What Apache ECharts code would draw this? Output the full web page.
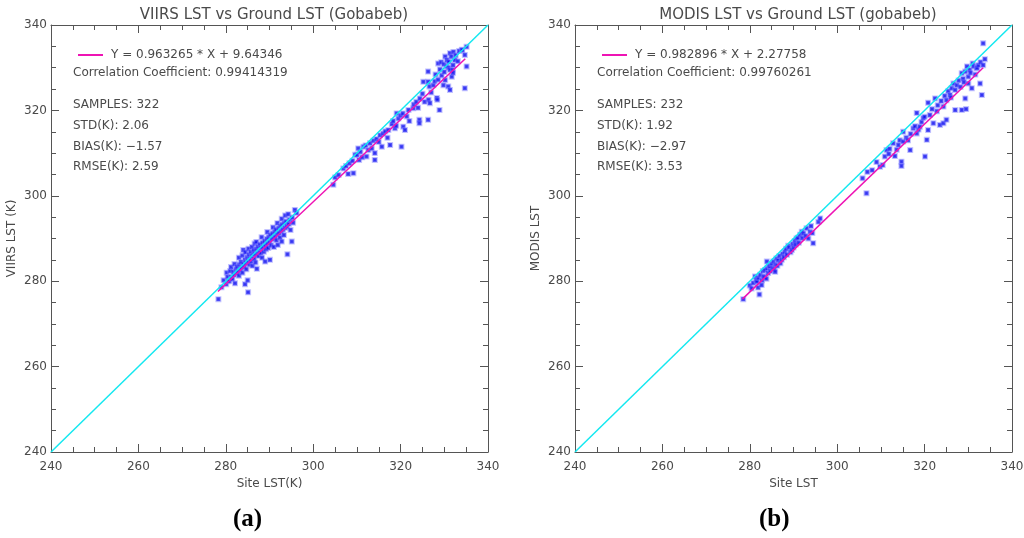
<!DOCTYPE html>
<html>
<head>
<meta charset="utf-8">
<script src="https://cdn.jsdelivr.net/npm/echarts@6/dist/echarts.min.js"></script>
<style>
  html, body { margin: 0; padding: 0; background: #fff; }
  #main { width: 1024px; height: 538px; }
</style>
</head>
<body>
<div id="main"></div>
<script>
// 数据: [站点 LST, 卫星 LST]
var viirsPoints = [
    [278.3, 275.8], [279.0, 278.6], [279.5, 280.2], [280.1, 279.3], [280.2, 282.0], [280.4, 281.0], [280.6, 280.0],
    [280.8, 280.1], [281.0, 282.4], [281.2, 281.0], [281.2, 283.3], [281.5, 280.5], [281.7, 282.2], [281.9, 281.5],
    [282.0, 284.0], [282.1, 279.5], [282.3, 282.8], [282.5, 281.9], [282.6, 283.4], [282.8, 282.2], [283.0, 281.3],
    [283.0, 285.5], [283.1, 283.9], [283.3, 282.7], [283.5, 284.5], [283.6, 283.2], [283.8, 282.0], [283.8, 286.0],
    [284.0, 287.3], [284.0, 284.1], [284.2, 283.4], [284.4, 279.3], [284.4, 285.0], [284.5, 286.8], [284.6, 284.3],
    [284.7, 282.8], [284.9, 285.6], [285.0, 280.2], [285.1, 277.4], [285.1, 284.7], [285.2, 287.6], [285.3, 286.2],
    [285.4, 283.9], [285.6, 285.3], [285.7, 286.8], [285.8, 284.6], [286.0, 285.9], [286.0, 288.0], [286.1, 283.6],
    [286.3, 286.5], [286.4, 287.2], [286.5, 285.2], [286.6, 288.8], [286.7, 286.3], [286.8, 284.4], [287.0, 287.6],
    [287.0, 289.2], [287.1, 282.9], [287.2, 286.4], [287.4, 288.1], [287.5, 285.9], [287.7, 287.0], [287.8, 288.6],
    [288.0, 286.6], [288.1, 287.8], [288.2, 290.3], [288.3, 285.5], [288.4, 289.0], [288.5, 288.0], [288.7, 286.9],
    [288.9, 289.4], [289.0, 284.6], [289.0, 288.3], [289.2, 287.5], [289.4, 289.9], [289.5, 288.8], [289.5, 291.5],
    [289.7, 287.8], [289.8, 290.3], [290.0, 289.1], [290.1, 285.0], [290.2, 290.8], [290.4, 288.4], [290.5, 289.9],
    [290.7, 291.2], [290.8, 292.6], [290.9, 290.0], [291.0, 288.0], [291.2, 291.6], [291.3, 290.4], [291.5, 292.1],
    [291.6, 289.6], [291.8, 291.0], [291.8, 293.6], [291.9, 288.5], [292.1, 292.4], [292.2, 291.3], [292.4, 290.2],
    [292.5, 292.9], [292.7, 291.7], [292.8, 289.3], [292.8, 294.6], [292.9, 293.3], [293.1, 292.1], [293.3, 290.8],
    [293.4, 293.6], [293.6, 292.5], [293.6, 295.4], [293.8, 294.0], [294.0, 292.8], [294.1, 286.3], [294.3, 295.7],
    [294.4, 293.4], [294.6, 294.4], [294.8, 292.0], [295.1, 289.3], [295.2, 294.9], [295.4, 293.7], [295.8, 296.7],
    [296.2, 296.0],
    [304.6, 302.6], [305.0, 304.3], [305.8, 304.9], [306.9, 306.4], [307.5, 307.0], [308.0, 305.1], [308.3, 307.6],
    [309.0, 308.2], [309.2, 305.3], [309.6, 309.6], [310.0, 309.6], [310.3, 311.1], [310.5, 308.4], [310.8, 310.3],
    [311.2, 309.0], [311.5, 311.5], [312.0, 311.8], [312.2, 309.2], [312.6, 310.7], [313.0, 312.3], [313.4, 311.1],
    [313.8, 312.9], [314.1, 308.4], [314.1, 310.0], [314.5, 313.3], [315.0, 312.6], [315.3, 314.2], [315.7, 311.5],
    [316.0, 314.6], [316.5, 315.1], [317.0, 313.6], [317.2, 315.4], [317.6, 311.9], [318.0, 316.8], [318.3, 317.5],
    [318.7, 315.8], [319.0, 316.4], [319.1, 319.3], [319.5, 318.1], [320.0, 318.8], [320.2, 311.5], [320.5, 319.3],
    [320.6, 316.2], [321.0, 315.4], [321.4, 318.6], [321.8, 320.1], [322.0, 317.5], [322.9, 320.5], [323.0, 321.4],
    [323.6, 322.0], [324.0, 320.6], [324.3, 317.8], [324.3, 317.0], [324.4, 322.8], [325.0, 323.9], [325.2, 326.7],
    [325.5, 322.0], [326.3, 317.8], [326.3, 326.7], [326.3, 329.1], [326.4, 322.5], [326.6, 325.6], [326.7, 321.7],
    [327.0, 324.2], [327.5, 325.9], [327.8, 326.8], [328.0, 328.4], [328.3, 322.9], [328.4, 322.5], [328.6, 327.2],
    [328.6, 331.0], [328.9, 320.1], [329.0, 329.6], [329.3, 331.3], [329.4, 328.2], [329.8, 325.9], [329.9, 330.8],
    [330.0, 329.0], [330.2, 332.6], [330.2, 327.1], [330.5, 330.3], [330.6, 331.8], [330.9, 325.6], [331.0, 331.4],
    [331.0, 330.0], [331.3, 333.4], [331.3, 329.5], [331.3, 324.8], [331.6, 332.6], [331.7, 327.9], [331.9, 329.5],
    [332.0, 330.6], [332.0, 328.8], [332.1, 333.7], [332.4, 331.8], [332.6, 332.9], [333.1, 331.5], [333.4, 333.9],
    [334.0, 334.1], [334.1, 334.2], [334.7, 333.0], [334.7, 325.2], [335.1, 334.9], [335.1, 330.3]
];
var modisPoints = [
    [278.5, 275.8], [280.0, 279.0], [280.4, 278.3], [280.8, 279.6], [281.2, 281.1], [281.5, 280.3], [281.6, 279.9],
    [281.9, 278.5], [282.0, 280.8], [282.2, 276.9], [282.4, 281.5], [282.7, 279.1], [282.8, 280.2], [283.0, 282.4],
    [283.1, 281.1], [283.3, 281.0], [283.5, 282.6], [283.8, 280.6], [283.9, 284.6], [284.0, 283.0], [284.2, 281.9],
    [284.4, 283.6], [284.6, 283.4], [284.7, 282.4], [285.0, 284.0], [285.2, 283.1], [285.4, 284.6], [285.6, 282.8],
    [285.8, 282.2], [285.9, 283.9], [286.1, 285.3], [286.3, 283.6], [286.5, 284.9], [286.8, 285.9], [287.0, 284.2],
    [287.3, 285.0], [287.5, 286.4], [287.8, 285.6], [288.0, 286.9], [288.3, 287.6], [288.5, 286.2], [288.8, 288.3],
    [289.0, 287.9], [289.3, 286.8], [289.6, 287.3], [289.8, 288.7], [290.0, 287.9], [290.3, 289.4], [290.5, 288.6],
    [290.7, 290.0], [291.0, 290.2], [291.2, 289.0], [291.5, 290.9], [291.9, 291.6], [292.0, 290.1], [292.3, 291.2],
    [292.8, 290.6], [293.0, 292.4], [293.4, 290.0], [293.8, 291.6], [294.0, 292.9], [294.3, 291.3], [294.5, 288.9],
    [295.7, 293.9], [296.1, 294.7],
    [305.8, 304.1], [306.7, 300.6], [306.9, 305.6], [308.0, 306.0], [309.0, 307.9], [309.8, 306.8], [310.4, 307.2],
    [310.9, 309.2], [311.3, 310.7], [311.8, 309.8], [312.0, 311.0], [312.8, 312.3], [313.2, 309.3], [313.6, 310.8],
    [314.0, 311.9], [314.3, 313.0], [314.7, 308.0], [314.7, 307.0], [315.1, 312.7], [315.1, 315.0], [315.8, 313.6],
    [316.2, 313.0], [316.7, 310.7], [316.8, 314.5], [317.4, 315.8], [317.8, 316.3], [318.2, 314.6], [318.2, 319.4],
    [318.6, 315.5], [318.9, 316.2], [319.3, 317.3], [319.7, 318.2], [320.0, 318.5], [320.1, 309.2], [320.5, 313.1],
    [320.8, 315.4], [320.8, 321.8], [321.2, 318.9], [321.7, 320.3], [322.0, 317.0], [322.4, 322.8], [322.8, 319.8],
    [323.0, 321.2], [323.5, 316.6], [323.8, 322.2], [324.3, 317.0], [324.3, 320.9], [324.6, 323.4], [325.0, 317.8],
    [325.0, 322.4], [325.4, 324.5], [325.8, 323.6], [326.0, 323.0], [326.2, 325.2], [326.6, 326.3], [327.0, 320.1],
    [327.0, 324.8], [327.4, 325.9], [327.8, 327.0], [328.2, 325.5], [328.5, 320.1], [328.5, 328.7], [328.8, 327.4],
    [329.0, 326.6], [329.3, 322.8], [329.3, 329.1], [329.5, 320.3], [329.7, 330.3], [330.0, 326.3], [330.0, 327.9],
    [330.3, 329.5], [330.5, 328.8], [330.8, 325.2], [331.0, 331.0], [331.2, 330.3], [331.6, 328.4], [331.9, 329.9],
    [332.0, 330.0], [332.3, 330.6], [332.7, 326.3], [332.8, 331.3], [333.1, 323.6], [333.4, 330.6], [333.4, 335.7],
    [333.8, 332.0]
];
var oneToOne = [[240, 240], [340, 340]];
var viirsFit = [[278.2, 277.6], [334.8, 332.1]];
var modisFit = [[278.3, 275.8], [333.4, 330.0]];
var axisMin = 240;
var axisMax = 340;
var axisStep = 20;

var viirsEq = 'Y = 0.963265 * X + 9.64346';
var modisEq = 'Y = 0.982896 * X + 2.27758';
var viirsStats = ['Correlation Coefficient: 0.99414319', 'SAMPLES: 322', 'STD(K): 2.06', 'BIAS(K): \u22121.57', 'RMSE(K): 2.59'];
var modisStats = ['Correlation Coefficient: 0.99760261', 'SAMPLES: 232', 'STD(K): 1.92', 'BIAS(K): \u22122.97', 'RMSE(K): 3.53'];

var FONT = 'DejaVu Sans';
var TXT = '#4a4a4a';
var AXC = '#555';

function xAxisCfg(gi, pos, name) {
    return {
        gridIndex: gi, type: 'value', position: pos,
        min: axisMin, max: axisMax, interval: axisStep,
        name: name, nameLocation: 'middle', nameGap: 25,
        nameTextStyle: { color: TXT, fontSize: 12, fontFamily: FONT },
        axisLine: { show: true, onZero: false, lineStyle: { color: AXC, width: 1 } },
        axisTick: { show: true, inside: true, length: 8, lineStyle: { color: AXC } },
        minorTick: { show: true, splitNumber: 4, length: 5, lineStyle: { color: AXC } },
        splitLine: { show: false },
        axisLabel: { show: pos === 'bottom', color: TXT, fontSize: 12, fontFamily: FONT, margin: 9 }
    };
}
function yAxisCfg(gi, pos, name) {
    return {
        gridIndex: gi, type: 'value', position: pos,
        min: axisMin, max: axisMax, interval: axisStep,
        name: name, nameLocation: 'middle', nameGap: 33, nameRotate: 90,
        nameTextStyle: { color: TXT, fontSize: 12, fontFamily: FONT },
        axisLine: { show: true, onZero: false, lineStyle: { color: AXC, width: 1 } },
        axisTick: { show: true, inside: true, length: 8, lineStyle: { color: AXC } },
        minorTick: { show: true, splitNumber: 4, length: 5, lineStyle: { color: AXC } },
        splitLine: { show: false },
        axisLabel: { show: pos === 'left', color: TXT, fontSize: 12, fontFamily: FONT, margin: 4 }
    };
}
function statTexts(x0, lines) {
    var ys = [67, 99, 120, 141, 161];
    return lines.map(function (t, i) {
        return { type: 'text', left: x0, top: ys[i], style: { text: t, fill: TXT, font: '12px ' + FONT } };
    });
}
function scatterCfg(gi, data) {
    return {
        type: 'scatter', xAxisIndex: gi * 2, yAxisIndex: gi * 2, data: data,
        symbol: 'rect', symbolSize: 4, z: 3,
        itemStyle: { color: '#0000ee', borderColor: 'rgba(120,120,255,0.55)', borderWidth: 2 }
    };
}
function lineCfg(gi, data, color, name) {
    return {
        type: 'line', name: name, xAxisIndex: gi * 2, yAxisIndex: gi * 2, data: data,
        symbol: 'none', clip: true, z: 4,
        itemStyle: { color: color },
        lineStyle: { color: color, width: 1.5 }
    };
}

var myChart = echarts.init(document.getElementById('main'));
var option = {
    backgroundColor: '#fff',
    animation: false,
    title: [
        { text: 'VIIRS LST vs Ground LST (Gobabeb)', left: 269, top: 3, textAlign: 'center',
          textStyle: { color: TXT, fontSize: 15, fontWeight: 'normal', fontFamily: FONT } },
        { text: 'MODIS LST vs Ground LST (gobabeb)', left: 793, top: 3, textAlign: 'center',
          textStyle: { color: TXT, fontSize: 15, fontWeight: 'normal', fontFamily: FONT } }
    ],
    legend: [
        { data: [viirsEq], left: 73, top: 44, icon: 'rect', itemWidth: 25, itemHeight: 2,
          textStyle: { color: TXT, fontSize: 12, fontFamily: FONT, padding: [0, 0, 0, 3] } },
        { data: [modisEq], left: 597, top: 44, icon: 'rect', itemWidth: 25, itemHeight: 2,
          textStyle: { color: TXT, fontSize: 12, fontFamily: FONT, padding: [0, 0, 0, 3] } }
    ],
    grid: [
        { left: 51, top: 25, width: 437, height: 427, containLabel: false, outerBoundsMode: 'none' },
        { left: 575, top: 25, width: 437, height: 427, containLabel: false, outerBoundsMode: 'none' }
    ],
    xAxis: [
        xAxisCfg(0, 'bottom', 'Site LST(K)'), xAxisCfg(0, 'top', ''),
        xAxisCfg(1, 'bottom', 'Site LST'), xAxisCfg(1, 'top', '')
    ],
    yAxis: [
        yAxisCfg(0, 'left', 'VIIRS LST (K)'), yAxisCfg(0, 'right', ''),
        yAxisCfg(1, 'left', 'MODIS LST'), yAxisCfg(1, 'right', '')
    ],
    series: [
        lineCfg(0, oneToOne, '#14e8f0', '1:1'),
        scatterCfg(0, viirsPoints),
        lineCfg(0, viirsFit, '#ee14b4', viirsEq),
        lineCfg(1, oneToOne, '#14e8f0', '1:1 '),
        scatterCfg(1, modisPoints),
        lineCfg(1, modisFit, '#ee14b4', modisEq)
    ],
    graphic: statTexts(73, viirsStats).concat(statTexts(597, modisStats)).concat([
        { type: 'text', left: 233, top: 507, style: { text: '(a)', fill: '#000', font: 'bold 25px Liberation Serif' } },
        { type: 'text', left: 759, top: 507, style: { text: '(b)', fill: '#000', font: 'bold 25px Liberation Serif' } }
    ])
};
if (option && typeof option === "object") {
    myChart.setOption(option, true);
    window.onresize = myChart.resize;
}
</script>
</body>
</html>
